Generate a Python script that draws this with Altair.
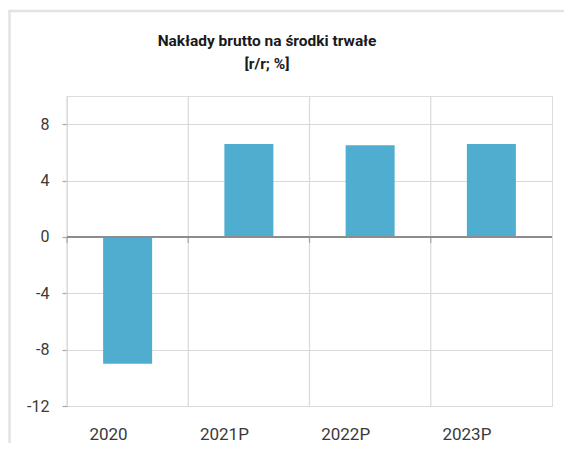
import altair as alt
import pandas as pd

categories = ["2020", "2021P", "2022P", "2023P"]
values = [-9.0, 6.6, 6.5, 6.6]
y_ticks = [-12, -8, -4, 0, 4, 8]
title_lines = ["Nakłady brutto na środki trwałe", "[r/r; %]"]

df = pd.DataFrame({"cat": categories, "val": values})

FONT = "Roboto"

xenc = alt.X("cat:N", sort=categories, title=None,
             scale=alt.Scale(paddingInner=0, paddingOuter=0),
             axis=alt.Axis(labelAngle=0, ticks=False, domain=False,
                           labelPadding=28, labelFontSize=17, labelColor="#3a3a3a",
                           labelFont=FONT, grid=False))
yscale = alt.Scale(domain=[-12, 10], nice=False, zero=False)

base = alt.Chart(df)
one = alt.Chart(alt.Data(values=[{}]))

frame = one.mark_rect(fillOpacity=0, stroke="#e3e3e3", strokeWidth=2.5).encode(
    x=alt.value(-57.5), x2=alt.value(700), y=alt.value(-85), y2=alt.value(700)
)

title = one.mark_text(font=FONT, fontSize=15.5, fontWeight="bold", color="#1a1a1a",
                      align="center", baseline="alphabetic", lineHeight=23,
                      lineBreak="\n").encode(
    x=alt.value(200), y=alt.value(-50), text=alt.value("\n".join(title_lines))
)

vgrid = base.mark_rule(color="#d9d9d9", strokeWidth=1.2).encode(
    x=alt.X("cat:N", sort=categories, bandPosition=0)
)

bars = base.mark_bar(color="#4FADCF", size=49).encode(
    x=xenc,
    y=alt.Y("val:Q", scale=yscale, title=None,
            axis=alt.Axis(values=y_ticks, grid=True, gridColor="#d9d9d9", gridWidth=1.2,
                          domain=False, tickColor="#a6a6a6", tickSize=5, tickWidth=1.2,
                          labelPadding=13, labelFontSize=16, labelColor="#3a3a3a",
                          labelFont=FONT, labelExpr="'' + datum.value")),
)

zero = base.mark_rule(color="#8c8c8c", strokeWidth=1.5).encode(y=alt.datum(0))

zticks = base.mark_tick(color="#8c8c8c", orient="vertical", size=6, yOffset=3,
                        thickness=1.2).encode(
    x=alt.X("cat:N", sort=categories, bandPosition=0),
    y=alt.datum(0),
)

chart = alt.layer(frame, vgrid, bars, zero, zticks, title).properties(
    width=485,
    height=310,
    padding={"left": 59, "top": 88, "right": 12, "bottom": 37},
    autosize=alt.AutoSizeParams(type="none"),
).configure_view(stroke="#a6a6a6", strokeWidth=1.5).configure(background="white")

chart.save("out.html", embed_options={"renderer": "svg", "actions": False})
